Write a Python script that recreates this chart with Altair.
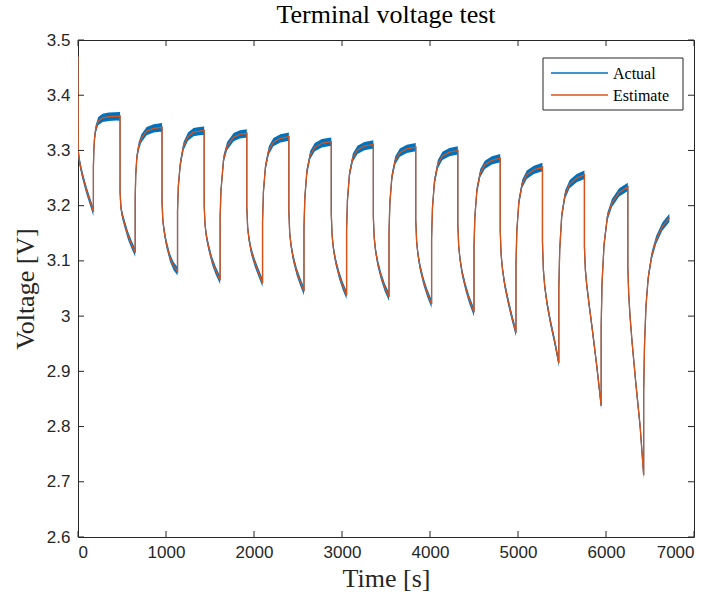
import altair as alt
import pandas as pd

# ---- data ----
time_s = [
    0, 3, 15, 40, 70, 100, 140, 175,
    175, 180, 187, 200, 230, 280, 350, 478,
    478, 488, 503, 528, 568, 608, 650,
    650, 656, 669, 690, 720, 780, 860, 955,
    955, 965, 980, 1005, 1045, 1085, 1131,
    1131, 1140, 1162, 1199, 1250, 1313, 1380, 1434,
    1434, 1444, 1459, 1484, 1524, 1564, 1615,
    1615, 1625, 1655, 1694, 1769, 1840, 1918,
    1918, 1928, 1943, 1968, 2008, 2048, 2097,
    2097, 2107, 2130, 2168, 2220, 2300, 2396,
    2396, 2406, 2421, 2446, 2486, 2526, 2568,
    2568, 2578, 2601, 2639, 2691, 2771, 2878,
    2878, 2888, 2903, 2928, 2968, 3008, 3052,
    3052, 3062, 3085, 3123, 3175, 3255, 3356,
    3356, 3366, 3381, 3406, 3446, 3486, 3534,
    3534, 3544, 3567, 3605, 3657, 3737, 3838,
    3838, 3848, 3863, 3888, 3928, 3968, 4018,
    4018, 4028, 4051, 4089, 4141, 4221, 4316,
    4316, 4326, 4341, 4366, 4406, 4446, 4500,
    4500, 4510, 4533, 4571, 4623, 4703, 4798,
    4798, 4808, 4823, 4848, 4888, 4928, 4977,
    4977, 4987, 5010, 5048, 5100, 5180, 5278,
    5278, 5288, 5303, 5328, 5368, 5418, 5464,
    5464, 5474, 5497, 5535, 5587, 5667, 5755,
    5755, 5765, 5780, 5805, 5845, 5895, 5945,
    5945, 5955, 5978, 6016, 6068, 6150, 6248,
    6248, 6258, 6273, 6298, 6338, 6388, 6428,
    6428, 6438, 6455, 6480, 6520, 6570, 6640, 6720,
]
voltage = [
    3.470, 3.300, 3.282, 3.262, 3.243, 3.226, 3.206, 3.189,
    3.270, 3.300, 3.320, 3.338, 3.353, 3.359, 3.361, 3.362,
    3.225, 3.196, 3.183, 3.168, 3.146, 3.130, 3.115,
    3.215, 3.255, 3.288, 3.308, 3.322, 3.335, 3.340, 3.342,
    3.205, 3.172, 3.153, 3.131, 3.106, 3.091, 3.081,
    3.190, 3.235, 3.275, 3.308, 3.325, 3.333, 3.335, 3.336,
    3.200, 3.165, 3.145, 3.125, 3.100, 3.083, 3.065,
    3.180, 3.228, 3.285, 3.308, 3.324, 3.329, 3.331,
    3.198, 3.160, 3.140, 3.118, 3.097, 3.080, 3.060,
    3.170, 3.225, 3.270, 3.300, 3.315, 3.322, 3.325,
    3.190, 3.150, 3.128, 3.105, 3.080, 3.062, 3.045,
    3.160, 3.215, 3.262, 3.292, 3.306, 3.313, 3.316,
    3.185, 3.145, 3.122, 3.099, 3.074, 3.055, 3.038,
    3.155, 3.210, 3.257, 3.287, 3.301, 3.308, 3.311,
    3.180, 3.142, 3.119, 3.096, 3.071, 3.052, 3.035,
    3.150, 3.205, 3.252, 3.282, 3.296, 3.303, 3.306,
    3.175, 3.135, 3.112, 3.088, 3.062, 3.042, 3.022,
    3.140, 3.196, 3.244, 3.275, 3.290, 3.297, 3.300,
    3.168, 3.127, 3.103, 3.078, 3.051, 3.030, 3.007,
    3.125, 3.180, 3.228, 3.259, 3.274, 3.282, 3.286,
    3.155, 3.112, 3.086, 3.058, 3.027, 3.000, 2.970,
    3.095, 3.155, 3.207, 3.240, 3.256, 3.265, 3.270,
    3.135, 3.085, 3.055, 3.025, 2.990, 2.953, 2.915,
    3.050, 3.120, 3.182, 3.220, 3.239, 3.250, 3.256,
    3.125, 3.085, 3.058, 3.025, 2.975, 2.910, 2.838,
    2.980, 3.060, 3.130, 3.180, 3.205, 3.224, 3.234,
    3.090, 3.040, 3.000, 2.950, 2.880, 2.800, 2.712,
    2.860, 2.950, 3.020, 3.070, 3.110, 3.138, 3.162, 3.178,
]
x_ticks = [0, 1000, 2000, 3000, 4000, 5000, 6000, 7000]
y_ticks = [2.6, 2.7, 2.8, 2.9, 3.0, 3.1, 3.2, 3.3, 3.4, 3.5]
series_names = ["Actual", "Estimate"]
series_colors = ["#0072BD", "#D95319"]
noise_half = 0.0075  # half-width of the measurement-noise band of the Actual trace

# ---- build tables ----
n = len(time_s)
df_act = pd.DataFrame({"t": time_s, "v": voltage, "idx": list(range(n)), "series": "Actual"})
df_act["lo"] = df_act["v"] - noise_half
df_act["hi"] = df_act["v"] + noise_half
df_est = pd.DataFrame({"t": time_s, "v": voltage, "idx": list(range(n)), "series": "Estimate"})
df_xt = pd.DataFrame({"t": x_ticks})
df_yt = pd.DataFrame({"v": y_ticks})
df_one = pd.DataFrame({"k": [0]})

LEFT, TOP = 78, 40
W, H = 616, 497
AX = "#262626"
TICK_FONT = "Liberation Sans"
SERIF = "Liberation Serif"

xscale = alt.Scale(domain=[0, 7000], nice=False, zero=False)
yscale = alt.Scale(domain=[2.6, 3.5], nice=False, zero=False)

x_axis = alt.Axis(values=x_ticks, format="d", title="Time [s]", grid=False, domain=False,
                  ticks=False, labelPadding=7, labelFont=TICK_FONT, labelFontSize=17,
                  labelColor=AX, titleFont=SERIF, titleFontSize=26, titleFontWeight="normal",
                  titleColor=AX, titleBaseline="alphabetic", titleY=49)
y_axis = alt.Axis(values=y_ticks, format="~g", title="Voltage [V]", grid=False, domain=False,
                  ticks=False, labelPadding=8, labelFont=TICK_FONT, labelFontSize=17,
                  labelColor=AX, titleFont=SERIF, titleFontSize=26, titleFontWeight="normal",
                  titleColor=AX, titleBaseline="alphabetic", titleX=-45)

X = alt.X("t:Q", scale=xscale, axis=x_axis)
Y = alt.Y("v:Q", scale=yscale, axis=y_axis)
color_scale = alt.Scale(domain=series_names, range=series_colors)

band = (
    alt.Chart(df_act)
    .mark_area(color=series_colors[0], opacity=1, clip=True)
    .encode(x=X, y=alt.Y("lo:Q", scale=yscale, axis=y_axis), y2="hi:Q")
)

act_line = (
    alt.Chart(df_act)
    .mark_line(strokeWidth=1.2, clip=True)
    .encode(x=X, y=Y, order="idx:Q",
            color=alt.Color("series:N", scale=color_scale, legend=None))
)
est_line = (
    alt.Chart(df_est)
    .mark_line(strokeWidth=1.3, clip=True)
    .encode(x=X, y=Y, order="idx:Q",
            color=alt.Color("series:N", scale=color_scale, legend=None))
)

tick_len = 6
bottom_ticks = alt.Chart(df_xt).mark_rule(color=AX, strokeWidth=1).encode(
    x=X, y=alt.value(H), y2=alt.value(H - tick_len))
top_ticks = alt.Chart(df_xt).mark_rule(color=AX, strokeWidth=1).encode(
    x=X, y=alt.value(0), y2=alt.value(tick_len))
left_ticks = alt.Chart(df_yt).mark_rule(color=AX, strokeWidth=1).encode(
    y=Y, x=alt.value(0), x2=alt.value(tick_len))
right_ticks = alt.Chart(df_yt).mark_rule(color=AX, strokeWidth=1).encode(
    y=Y, x=alt.value(W), x2=alt.value(W - tick_len))

# ---- legend box (drawn by hand, MATLAB style) ----
LX0, LX1, LY0, LY1 = 543 - LEFT, 683 - LEFT, 58 - TOP, 110 - TOP
legend_box = alt.Chart(df_one).mark_rect(fill="white", stroke=AX, strokeWidth=1).encode(
    x=alt.value(LX0), x2=alt.value(LX1), y=alt.value(LY0), y2=alt.value(LY1))
legend_rows = []
for i, (name, col) in enumerate(zip(series_names, series_colors)):
    yy = 73 - TOP + 22 * i
    legend_rows.append(
        alt.Chart(df_one).mark_rule(color=col, strokeWidth=1.3).encode(
            x=alt.value(551 - LEFT), x2=alt.value(608 - LEFT), y=alt.value(yy)))
    legend_rows.append(
        alt.Chart(df_one).mark_text(text=name, font=SERIF, fontSize=16, color="#000",
                                    align="left", baseline="middle").encode(
            x=alt.value(613 - LEFT), y=alt.value(yy + 1)))

title = alt.Chart(df_one).mark_text(text="Terminal voltage test", font=SERIF, fontSize=26,
                                    color="#000", align="center", baseline="alphabetic").encode(
    x=alt.value(W / 2), y=alt.value(-17))

chart = (
    alt.layer(band, act_line, est_line, bottom_ticks, top_ticks, left_ticks, right_ticks,
              legend_box, *legend_rows, title)
    .properties(
        width=W,
        height=H,
        autosize=alt.AutoSizeParams(type="none"),
        padding={"left": LEFT, "top": TOP, "right": 717 - LEFT - W, "bottom": 597 - TOP - H},
        background="white",
    )
    .configure_view(stroke=AX, strokeWidth=1)
)

chart.save("out.html", embed_options={"renderer": "svg", "actions": False})
